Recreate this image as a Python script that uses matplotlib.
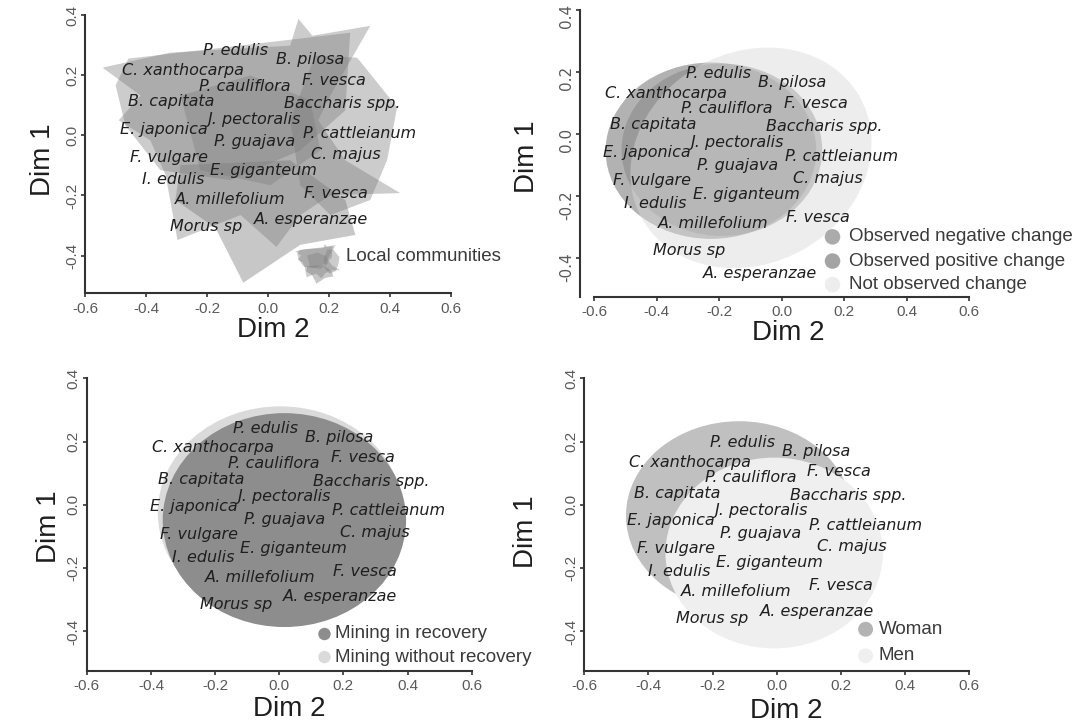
import matplotlib
matplotlib.use('Agg')
import matplotlib.pyplot as plt
from matplotlib.patches import Ellipse, Polygon
from matplotlib.ticker import FormatStrFormatter
import numpy as np

plt.rcParams['axes.unicode_minus'] = False

# species positions (Dim 2, Dim 1) as read in the lower-left panel
species = ['P. edulis', 'B. pilosa', 'C. xanthocarpa', 'P. cauliflora', 'F. vesca',
           'B. capitata', 'Baccharis spp.', 'J. pectoralis', 'E. japonica', 'P. cattleianum',
           'P. guajava', 'F. vulgare', 'C. majus', 'E. giganteum', 'I. edulis',
           'A. millefolium', 'F. vesca', 'A. esperanzae', 'Morus sp']
dim2 = [-0.043, 0.187, -0.206, -0.016, 0.260, -0.244, 0.287, 0.016, -0.266, 0.341,
        0.016, -0.249, 0.298, 0.043, -0.238, -0.060, 0.266, 0.190, -0.135]
dim1 = [0.243, 0.214, 0.180, 0.131, 0.149, 0.081, 0.075, 0.026, -0.005, -0.019,
        -0.045, -0.094, -0.087, -0.137, -0.166, -0.229, -0.210, -0.291, -0.314]

x_ticks = [-0.6, -0.4, -0.2, 0.0, 0.2, 0.4, 0.6]
y_ticks = [-0.4, -0.2, 0.0, 0.2, 0.4]

# local communities (top-left panel), polygon vertices (Dim 2, Dim 1)
community_a = [(-0.543, 0.225), (-0.320, 0.275), (0.073, 0.298), (0.100, 0.387), (0.146, 0.331),
               (0.336, 0.364), (0.205, 0.132), (0.165, 0.050), (0.254, -0.083), (0.434, -0.192),
               (0.205, -0.199), (0.106, -0.265), (0.028, -0.371), (-0.090, -0.265), (-0.297, -0.348),
               (-0.336, -0.132), (-0.386, -0.017), (-0.490, 0.050), (-0.418, 0.132)]
community_b = [(-0.458, 0.255), (0.270, 0.341), (0.254, 0.083), (0.106, -0.050), (-0.123, -0.149),
               (-0.353, -0.116), (-0.468, 0.033), (-0.500, 0.166)]
community_c = [(0.155, 0.265), (0.293, 0.258), (0.424, 0.093), (0.391, -0.083), (0.336, -0.215),
               (0.205, -0.265), (0.106, -0.166), (0.073, 0.050)]
community_d = [(-0.287, -0.099), (0.073, -0.083), (0.254, -0.215), (0.287, -0.331), (0.106, -0.364),
               (-0.081, -0.490), (-0.172, -0.308), (-0.304, -0.215)]
community_e = [(-0.287, 0.132), (-0.058, 0.199), (0.139, 0.116), (0.172, -0.050), (0.008, -0.166),
               (-0.222, -0.116)]
communities = [community_a, community_b, community_c, community_d, community_e]

# ellipses: centre x, centre y, width, height, angle
change_labels = ['Observed negative change', 'Observed positive change', 'Not observed change']
change_x = [-0.191, -0.226, -0.098]
change_y = [-0.051, -0.054, -0.077]
change_w = [0.642, 0.674, 0.800]
change_h = [0.556, 0.569, 0.680]
change_angle = [0, 0, 30]

mining_labels = ['Mining in recovery', 'Mining without recovery']
mining_x = [0.016, 0.003]
mining_y = [-0.048, -0.024]
mining_w = [0.759, 0.764]
mining_h = [0.676, 0.671]

gender_labels = ['Woman', 'Men']
gender_x = [-0.117, -0.008]
gender_y = [-0.034, -0.152]
gender_w = [0.706, 0.678]
gender_h = [0.597, 0.603]

SANS = 'Liberation Sans'


def setup_axes(ax, xlabel_pos, ylabel_pos):
    ax.set_xlim(-0.6, 0.6)
    ax.set_ylim(-0.525, 0.4)
    ax.set_xticks(x_ticks)
    ax.set_yticks(y_ticks)
    ax.xaxis.set_major_formatter(FormatStrFormatter('%.1f'))
    ax.yaxis.set_major_formatter(FormatStrFormatter('%.1f'))
    for side in ('top', 'right'):
        ax.spines[side].set_visible(False)
    for side in ('left', 'bottom'):
        ax.spines[side].set_color('#333333')
        ax.spines[side].set_linewidth(1.5)
    ax.tick_params(direction='out', length=3, width=1.2, color='#333333',
                   labelcolor='#5a5a5a', labelsize=11)
    ax.tick_params(axis='x', pad=3)
    ax.tick_params(axis='y', pad=1.5, labelrotation=90)
    for lab in ax.get_xticklabels() + ax.get_yticklabels():
        lab.set_family(SANS)
    for lab in ax.get_yticklabels():
        lab.set_va('center')
    ax.set_xlabel('Dim 2', fontsize=20, family=SANS, color='#1e1e1e')
    ax.xaxis.set_label_coords(*xlabel_pos)
    ax.xaxis.label.set_va('center')
    ax.set_ylabel('Dim 1', fontsize=20, family=SANS, color='#1e1e1e')
    ax.yaxis.set_label_coords(*ylabel_pos)
    ax.yaxis.label.set_va('center')


def draw_species(ax, sx, sy, dx, dy, moved=None):
    moved = moved or {}
    for name, x, y in zip(species, dim2, dim1):
        px, py = moved.get(name, (sx * x + dx, sy * y + dy))
        ax.text(px, py, name, ha='center', va='center', style='italic', fontsize=11.5,
                color='#1f1f1f', family='DejaVu Sans', zorder=5)


def legend_entry(ax, x, y, text, color, alpha=1.0, size=110, gap=0.04):
    ax.scatter([x], [y], s=size, color=color, alpha=alpha, edgecolor='none', zorder=5)
    ax.text(x + gap, y, text, ha='left', va='center', fontsize=13.5, family=SANS,
            color='#3a3a3a', zorder=5)


fig = plt.figure(figsize=(10.89, 7.27), dpi=100)
fig.patch.set_facecolor('white')

# ---- top-left: local communities
ax1 = fig.add_axes([0.0782, 0.5966, 0.3357, 0.3828])
shades = [('#cccccc', 1.0), ('#7a7a7a', 0.38), ('#7a7a7a', 0.38), ('#7a7a7a', 0.42), ('#7a7a7a', 0.34)]
for verts, (col, al) in zip(communities, shades):
    ax1.add_patch(Polygon(verts, closed=True, facecolor=col, alpha=al, edgecolor='none', zorder=1))
# small copy of the hulls as legend symbol
for verts, (col, al) in zip(communities, shades):
    v = np.array(verts)
    icon = (v + 0.05) * 0.15 + np.array([0.164, -0.427])
    ax1.add_patch(Polygon(icon, closed=True, facecolor=col, alpha=al, edgecolor='none', zorder=1))
ax1.text(0.256, -0.403, 'Local communities', ha='left', va='center', fontsize=13.5,
         family=SANS, color='#3a3a3a', zorder=5)
draw_species(ax1, 1.06, 1.05, -0.060, 0.026)
setup_axes(ax1, (0.515, -0.132), (-0.114, 0.479))

# ---- top-right: perceived change
ax2 = fig.add_axes([0.5455, 0.5919, 0.3444, 0.3943])
change_style = [('#8b8b8b', 0.60, 1), ('#8b8b8b', 0.66, 1), ('#dadada', 0.465, 2)]
for cx, cy, w, h, ang, (col, al, z) in zip(change_x, change_y, change_w, change_h,
                                            change_angle, change_style):
    ax2.add_patch(Ellipse((cx, cy), w, h, angle=ang, facecolor=col, alpha=al,
                          edgecolor='none', zorder=z))
draw_species(ax2, 1.03, 1.028, -0.158, -0.054, moved={'A. esperanzae': (-0.070, -0.449)})
legend_alpha = [0.72, 0.78, 0.465]
for lab, ly, (col, al, z), la in zip(change_labels, [-0.332, -0.410, -0.486], change_style, legend_alpha):
    legend_entry(ax2, 0.163, ly, lab, col, la, size=125, gap=0.052)
setup_axes(ax2, (0.518, -0.127), (-0.180, 0.488))
ax2.spines['left'].set_position(('outward', 10))

# ---- bottom-left: mining
ax3 = fig.add_axes([0.0798, 0.0770, 0.3533, 0.4026])
mining_colors = ['#8d8d8d', '#dadada']
for i in (1, 0):
    ax3.add_patch(Ellipse((mining_x[i], mining_y[i]), mining_w[i], mining_h[i],
                          facecolor=mining_colors[i], edgecolor='none', zorder=1 + (1 - i)))
draw_species(ax3, 1.0, 1.0, 0.0, 0.0)
for lab, ly, col in zip(mining_labels, [-0.408, -0.481], mining_colors):
    legend_entry(ax3, 0.141, ly, lab, col, size=80, gap=0.034)
setup_axes(ax3, (0.526, -0.131), (-0.099, 0.494))

# ---- bottom-right: gender
ax4 = fig.add_axes([0.5365, 0.0770, 0.3535, 0.4026])
gender_colors = ['#c0c0c0', '#efefef']
for i in (0, 1):
    ax4.add_patch(Ellipse((gender_x[i], gender_y[i]), gender_w[i], gender_h[i],
                          facecolor=gender_colors[i], edgecolor='none', zorder=1 + i))
draw_species(ax4, 1.0, 1.0, -0.065, -0.045)
for lab, ly, col in zip(gender_labels, [-0.393, -0.477], ['#b3b3b3', '#efefef']):
    legend_entry(ax4, 0.277, ly, lab, col, size=115, gap=0.04)
setup_axes(ax4, (0.526, -0.137), (-0.152, 0.477))

fig.savefig('out.png', dpi=100, facecolor='white')
